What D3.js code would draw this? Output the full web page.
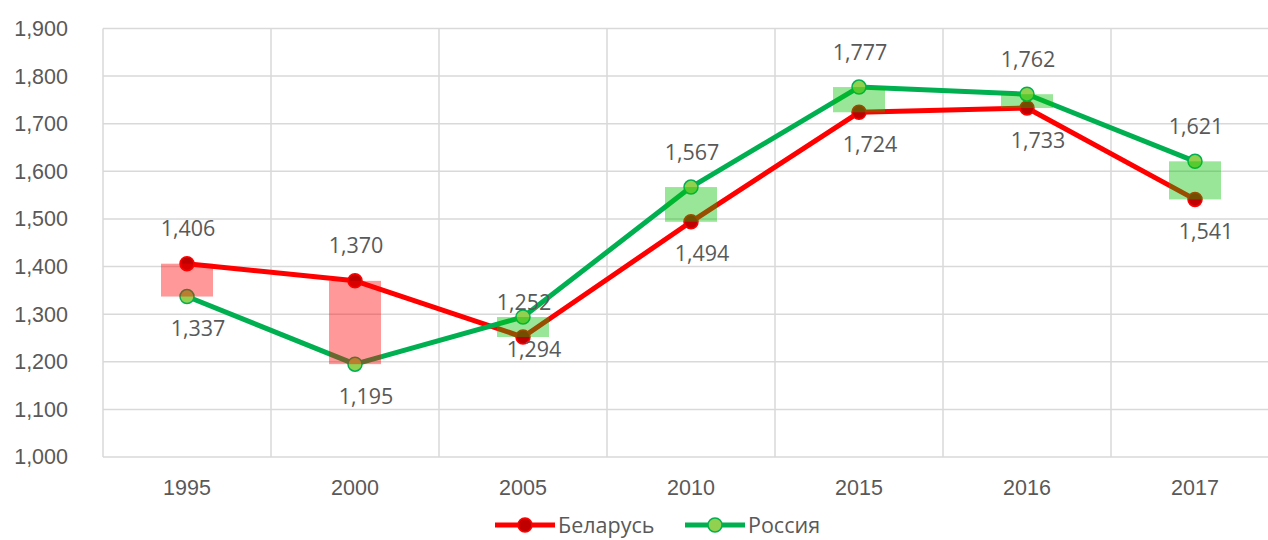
<!DOCTYPE html>
<html>
<head>
<meta charset="utf-8">
<script src="https://cdn.jsdelivr.net/npm/d3@7"></script>
<style>
  body { margin: 0; background: #fff; }
  svg { display: block; font-family: "Open Sans", "Noto Sans", sans-serif; }
</style>
</head>
<body>
<svg id="chart" width="1268" height="540"></svg>
<script>
// Data
const years = ['1995', '2000', '2005', '2010', '2015', '2016', '2017'];
const belarus = [1406, 1370, 1252, 1494, 1724, 1733, 1541];
const russia = [1337, 1195, 1294, 1567, 1777, 1762, 1621];
const yTicks = [1000, 1100, 1200, 1300, 1400, 1500, 1600, 1700, 1800, 1900];
const seriesNames = ['Беларусь', 'Россия'];

var margin = {left: 103, top: 28.5};
var plotW = 1176, plotH = 428.5;
var fs = '21.5px';

var svg = d3.select('#chart');

var x = d3.scaleBand().domain(years).range([margin.left, margin.left + plotW]);
var y = d3.scaleLinear().domain([1000, 1900]).range([margin.top + plotH, margin.top]);

// gridlines
var grid = svg.append('g');
grid.selectAll('.hg')
  .data(yTicks)
  .join('line')
  .attr('x1', margin.left).attr('x2', margin.left + plotW)
  .attr('y1', d => y(d)).attr('y2', d => y(d))
  .attr('stroke', '#d9d9d9').attr('stroke-width', 1.5);
grid.selectAll('.vg')
  .data(years.concat(['end']))
  .join('line')
  .attr('x1', (d, i) => margin.left + i * x.bandwidth())
  .attr('x2', (d, i) => margin.left + i * x.bandwidth())
  .attr('y1', margin.top).attr('y2', margin.top + plotH)
  .attr('stroke', '#d9d9d9').attr('stroke-width', 1.5);

// axes
var yAxis = svg.append('g')
  .attr('transform', 'translate(68,0)')
  .call(d3.axisLeft(y).tickValues(yTicks).tickFormat(d3.format(',')).tickSize(0).tickPadding(0));
yAxis.select('.domain').remove();
yAxis.selectAll('text').attr('fill', '#595959').style('font-size', fs).style('font-family', 'inherit');

var xAxis = svg.append('g')
  .attr('transform', 'translate(0,' + (margin.top + plotH) + ')')
  .call(d3.axisBottom(x).tickSize(0).tickPadding(23));
xAxis.select('.domain').remove();
xAxis.selectAll('text').attr('fill', '#595959').style('font-size', fs).style('font-family', 'inherit');

var cx = d => x(d) + x.bandwidth() / 2;

var line = d3.line().x(d => cx(d.year)).y(d => y(d.value));
var bel = years.map((yr, i) => ({year: yr, value: belarus[i]}));
var rus = years.map((yr, i) => ({year: yr, value: russia[i]}));

svg.append('path').datum(bel).attr('d', line)
  .attr('fill', 'none').attr('stroke', '#ff0000').attr('stroke-width', 5).attr('stroke-linejoin', 'round');
svg.append('path').datum(rus).attr('d', line)
  .attr('fill', 'none').attr('stroke', '#00b050').attr('stroke-width', 5).attr('stroke-linejoin', 'round');

svg.append('g').selectAll('circle').data(bel).join('circle')
  .attr('cx', d => cx(d.year)).attr('cy', d => y(d.value)).attr('r', 7)
  .attr('fill', '#c00000').attr('stroke', '#ff0000').attr('stroke-width', 1.5);
svg.append('g').selectAll('circle').data(rus).join('circle')
  .attr('cx', d => cx(d.year)).attr('cy', d => y(d.value)).attr('r', 7)
  .attr('fill', '#92d050').attr('stroke', '#00b050').attr('stroke-width', 1.5);

// up / down bars (drawn over the lines, translucent)
var barW = 52;
svg.append('g').selectAll('rect').data(years).join('rect')
  .attr('x', d => cx(d) - barW / 2)
  .attr('width', barW)
  .attr('y', (d, i) => y(Math.max(belarus[i], russia[i])))
  .attr('height', (d, i) => Math.abs(y(belarus[i]) - y(russia[i])))
  .attr('fill', (d, i) => russia[i] >= belarus[i] ? 'rgba(0,192,0,0.4)' : 'rgba(255,0,0,0.4)');

// data labels: Belarus on top for the first three years, Russia afterwards
var labels = svg.append('g').style('font-size', fs).attr('fill', '#595959').attr('text-anchor', 'middle');
years.forEach(function(yr, i) {
  var belTop = i < 3;
  [[belarus[i], belTop], [russia[i], !belTop]].forEach(function(p) {
    labels.append('text')
      .attr('x', cx(yr) + (p[1] ? 1 : 11))
      .attr('y', y(p[0]) + (p[1] ? -35 : 32))
      .attr('dy', '0.35em')
      .text(d3.format(',')(p[0]));
  });
});

// legend
var legend = svg.append('g').attr('transform', 'translate(0,525)');
var legItems = [
  {name: seriesNames[0], x: 495, stroke: '#ff0000', fill: '#c00000'},
  {name: seriesNames[1], x: 685, stroke: '#00b050', fill: '#92d050'}
];
legItems.forEach(function(it) {
  legend.append('line').attr('x1', it.x).attr('x2', it.x + 60).attr('y1', 0).attr('y2', 0)
    .attr('stroke', it.stroke).attr('stroke-width', 5);
  legend.append('circle').attr('cx', it.x + 30).attr('cy', 0).attr('r', 7)
    .attr('fill', it.fill).attr('stroke', it.stroke).attr('stroke-width', 1.5);
  legend.append('text').attr('x', it.x + 63).attr('y', 0).attr('dy', '0.35em')
    .attr('fill', '#595959').style('font-size', fs).text(it.name);
});
</script>
</body>
</html>
